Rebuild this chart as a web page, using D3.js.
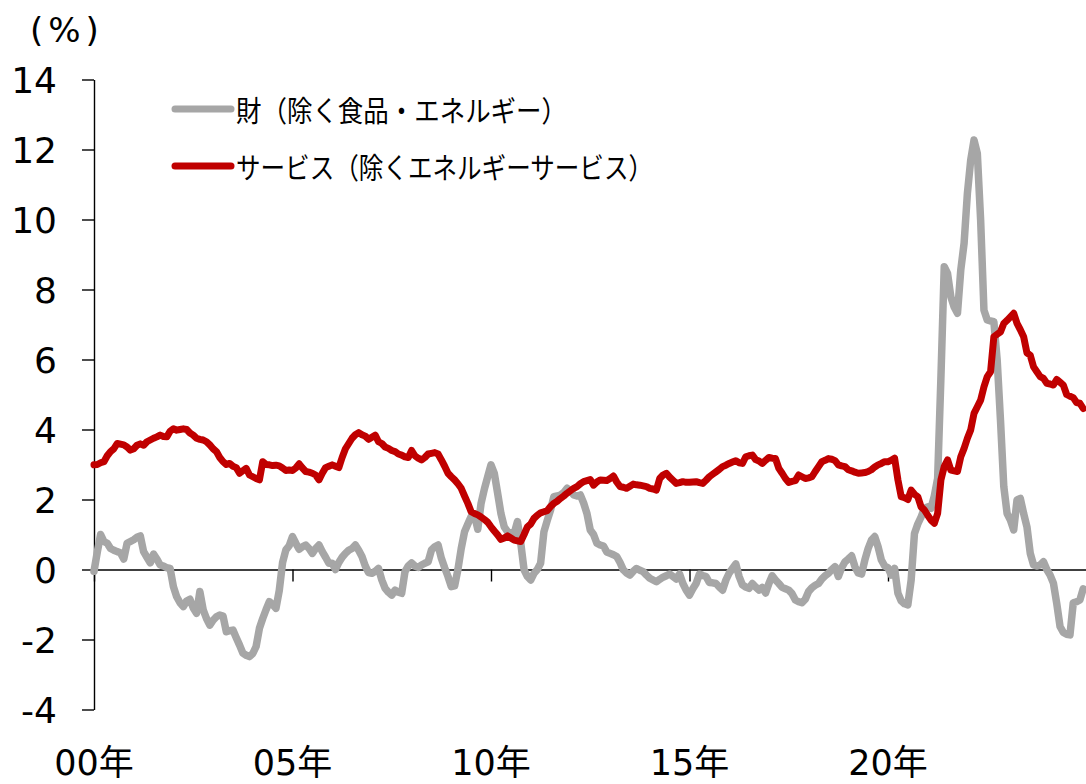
<!DOCTYPE html>
<html><head><meta charset="utf-8">
<script src="https://cdn.jsdelivr.net/npm/d3@7"></script>
<style>
html,body{margin:0;padding:0;background:#fff;}
svg{display:block;}
</style></head>
<body>
<svg id="chart" width="1086" height="784"></svg>
<script>
// ---- data (monthly YoY %, Jan 2000 .. Dec 2024) ----
const startYear = 2000;
const goodsYoY = [
 -0.05,0.5,1.0,0.8,0.75,0.6,0.55,0.51,0.48,0.3,0.75,0.8,
 0.85,0.92,0.96,0.51,0.35,0.19,0.44,0.3,0.13,0.1,0.05,0.03,
 -0.49,-0.78,-0.95,-1.06,-0.9,-0.85,-1.1,-1.25,-0.63,-1.15,-1.4,-1.59,
 -1.45,-1.35,-1.3,-1.33,-1.78,-1.75,-1.73,-1.95,-2.16,-2.39,-2.45,-2.49,
 -2.4,-2.2,-1.68,-1.4,-1.15,-0.92,-1.0,-1.11,-0.6,0.2,0.56,0.68,
 0.94,0.75,0.58,0.65,0.7,0.6,0.46,0.6,0.7,0.51,0.35,0.18,
 0.18,0.0,0.2,0.35,0.46,0.55,0.6,0.7,0.55,0.37,0.1,-0.09,
 -0.11,-0.05,0.03,-0.3,-0.54,-0.65,-0.73,-0.59,-0.65,-0.68,-0.06,0.1,
 0.19,0.1,0.06,0.13,0.18,0.22,0.56,0.65,0.7,0.32,0.05,-0.2,
 -0.49,-0.47,0.0,0.6,1.08,1.3,1.51,1.56,1.15,1.89,2.3,2.65,
 2.99,2.75,2.18,1.6,1.22,1.08,1.05,1.03,1.37,0.75,-0.01,-0.2,
 -0.3,-0.11,0.0,0.18,1.08,1.4,1.7,2.08,2.1,2.13,2.2,2.32,
 2.25,2.13,2.1,2.13,1.9,1.6,1.13,1.0,0.75,0.7,0.67,0.5,
 0.46,0.42,0.37,0.2,-0.01,-0.1,-0.16,-0.05,0.03,-0.02,-0.06,-0.16,
 -0.25,-0.3,-0.35,-0.28,-0.22,-0.18,-0.13,-0.2,-0.27,-0.13,-0.4,-0.59,
 -0.73,-0.55,-0.4,-0.13,-0.17,-0.2,-0.37,-0.38,-0.4,-0.5,-0.59,-0.3,
 -0.1,0.03,0.16,-0.2,-0.44,-0.5,-0.54,-0.4,-0.5,-0.59,-0.51,-0.67,
 -0.4,-0.18,-0.3,-0.4,-0.51,-0.55,-0.59,-0.69,-0.87,-0.92,-0.95,-0.85,
 -0.63,-0.52,-0.45,-0.4,-0.27,-0.18,-0.11,0.0,0.08,-0.2,0.05,0.22,
 0.3,0.39,0.08,-0.1,-0.13,0.27,0.6,0.84,0.94,0.65,0.27,0.1,
 0.05,-0.16,0.03,-0.68,-0.9,-0.98,-1.01,-0.3,1.03,1.3,1.5,1.75,
 1.79,1.75,2.1,2.6,5.5,8.65,8.46,7.79,7.5,7.32,8.56,9.32,
 10.75,11.7,12.27,11.89,9.99,7.41,7.13,7.1,7.08,5.99,4.27,2.37,
 1.6,1.41,1.13,1.99,2.03,1.6,1.22,0.46,0.13,0.1,0.13,0.22,
 0.0,-0.16,-0.39,-0.97,-1.63,-1.8,-1.85,-1.87,-0.95,-0.92,-0.87,-0.55
];
const servicesYoY = [
 2.99,3.0,3.05,3.08,3.25,3.37,3.45,3.6,3.58,3.56,3.5,3.41,
 3.45,3.55,3.59,3.55,3.65,3.7,3.75,3.79,3.84,3.8,3.79,3.95,
 4.02,3.98,4.0,4.02,4.0,3.9,3.84,3.75,3.72,3.7,3.65,3.56,
 3.45,3.37,3.2,3.08,3.0,3.03,2.95,2.91,2.75,2.82,2.89,2.7,
 2.65,2.6,2.56,3.08,3.0,2.99,2.97,2.98,2.96,2.9,2.83,2.84,
 2.83,2.9,3.02,2.9,2.8,2.78,2.75,2.7,2.56,2.75,2.91,2.95,
 2.99,2.95,2.91,3.2,3.45,3.6,3.75,3.85,3.91,3.85,3.81,3.72,
 3.78,3.84,3.65,3.6,3.5,3.46,3.4,3.37,3.3,3.27,3.22,3.2,
 3.4,3.25,3.18,3.13,3.2,3.3,3.32,3.34,3.3,3.13,2.95,2.75,
 2.65,2.56,2.45,2.32,2.1,1.89,1.65,1.6,1.56,1.5,1.43,1.35,
 1.22,1.1,0.99,0.86,0.9,0.96,0.9,0.84,0.82,0.8,1.0,1.22,
 1.3,1.46,1.55,1.62,1.65,1.68,1.8,1.89,1.95,2.03,2.1,2.18,
 2.25,2.32,2.37,2.45,2.51,2.54,2.57,2.41,2.5,2.56,2.55,2.54,
 2.6,2.67,2.5,2.37,2.35,2.32,2.38,2.44,2.42,2.41,2.39,2.37,
 2.32,2.3,2.27,2.6,2.7,2.75,2.64,2.55,2.46,2.48,2.51,2.49,
 2.49,2.5,2.51,2.48,2.46,2.55,2.65,2.72,2.79,2.86,2.94,2.98,
 3.03,3.07,3.11,3.05,3.03,3.22,3.25,3.27,3.14,3.1,3.03,3.12,
 3.2,3.18,3.17,2.89,2.75,2.6,2.49,2.52,2.54,2.7,2.65,2.6,
 2.62,2.65,2.8,2.94,3.08,3.12,3.17,3.15,3.11,2.99,2.96,2.94,
 2.85,2.82,2.78,2.75,2.76,2.77,2.8,2.85,2.93,2.99,3.03,3.08,
 3.08,3.12,3.18,2.56,2.08,2.05,2.0,2.27,2.15,2.08,1.79,1.7,
 1.55,1.41,1.32,1.6,2.56,2.94,3.13,2.84,2.82,2.8,3.22,3.46,
 3.75,3.99,4.46,4.65,4.84,5.22,5.51,5.65,6.65,6.72,6.79,7.03,
 7.12,7.22,7.32,7.03,6.85,6.65,6.19,6.12,5.79,5.65,5.51,5.46,
 5.32,5.3,5.27,5.43,5.35,5.27,5.0,4.95,4.91,4.77,4.75,4.6
];
const yTickValues = [-4,-2,0,2,4,6,8,10,12,14];
const xTickYears = [2000,2005,2010,2015,2020];
const xTickLabels = ["00年","05年","10年","15年","20年"];
const seriesNames = ["財（除く食品・エネルギー）","サービス（除くエネルギーサービス）"];
const unitLabel = "(%)";

// ---- drawing ----
const svg = d3.select("#chart");
const numFont = "'DejaVu Sans','Noto Sans CJK JP',sans-serif";
const jpFont = "'Noto Sans CJK JP','Noto Sans CJK SC',sans-serif";

const x = d3.scaleLinear().domain([startYear, startYear + 25]).range([94, 1086.5]);
const y = d3.scaleLinear().domain([-4, 14]).range([709.5, 79.5]);

// y axis
const yAxis = svg.append("g").attr("transform", "translate(94,0)")
  .call(d3.axisLeft(y).tickValues(yTickValues).tickSize(12).tickSizeOuter(0)
    .tickPadding(25).tickFormat(d => String(d)));
yAxis.selectAll("path,line").attr("stroke", "#000").attr("stroke-width", 1.4);
yAxis.selectAll("text").attr("font-family", numFont).attr("font-size", 36)
  .attr("fill", "#000").attr("dy", "0.36em");

// x axis at zero
const xAxis = svg.append("g").attr("transform", `translate(0,${y(0)})`)
  .call(d3.axisBottom(x).tickValues(xTickYears).tickSize(12).tickSizeOuter(0).tickFormat(""));
xAxis.selectAll("path,line").attr("stroke", "#000").attr("stroke-width", 1.4);

// x labels at bottom
svg.append("g").selectAll("text").data(xTickYears).join("text")
  .attr("x", d => x(d)).attr("y", 775)
  .attr("text-anchor", "middle")
  .attr("font-family", numFont).attr("font-size", 35).attr("fill", "#000")
  .text((d, i) => xTickLabels[i]);

// unit label
svg.append("text").attr("x", 30).attr("y", 42)
  .attr("font-family", numFont).attr("font-size", 34).attr("letter-spacing", 5)
  .attr("fill", "#000").text(unitLabel);

// lines
const line = d3.line()
  .x((d, i) => x(startYear + i / 12))
  .y(d => y(d));

svg.append("path").datum(goodsYoY)
  .attr("d", line).attr("fill", "none").attr("stroke", "#A6A6A6")
  .attr("stroke-width", 7.5).attr("stroke-linejoin", "round").attr("stroke-linecap", "round");
svg.append("path").datum(servicesYoY)
  .attr("d", line).attr("fill", "none").attr("stroke", "#C00000")
  .attr("stroke-width", 7).attr("stroke-linejoin", "round").attr("stroke-linecap", "round");

// legend
const legendColors = ["#A6A6A6", "#C00000"];
const legendY = [109, 166];
const legendLen = [331, 417];
const lg = svg.append("g");
seriesNames.forEach((name, i) => {
  lg.append("line").attr("x1", 175).attr("x2", 231)
    .attr("y1", legendY[i]).attr("y2", legendY[i])
    .attr("stroke", legendColors[i]).attr("stroke-width", 7).attr("stroke-linecap", "round");
  lg.append("text").attr("x", 236).attr("y", legendY[i])
    .attr("dominant-baseline", "central")
    .attr("font-family", jpFont).attr("font-size", 29).attr("fill", "#000")
    .attr("textLength", legendLen[i]).attr("lengthAdjust", "spacingAndGlyphs")
    .text(name);
});
</script>
</body></html>
